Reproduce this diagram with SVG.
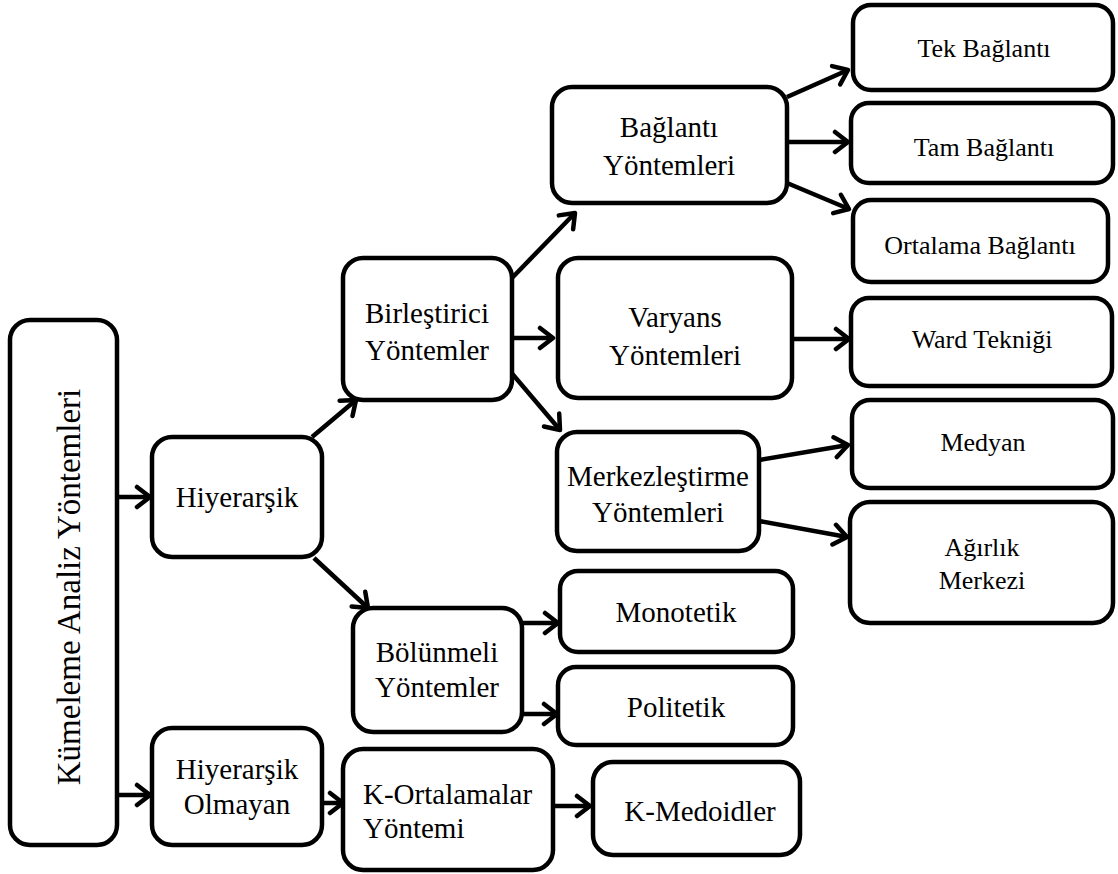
<svg xmlns="http://www.w3.org/2000/svg" width="1118" height="874" viewBox="0 0 1118 874" font-family="Liberation Serif, Times New Roman, serif">
<defs>
<style>
.box{fill:#fff;stroke:#000;stroke-width:4.5}
.t{font-size:29px;fill:#000;text-anchor:middle}
.s{font-size:26px;fill:#000;text-anchor:middle}
.l{font-size:29px;fill:#000;text-anchor:start}
.c{fill:none;stroke:#000;stroke-width:4.5;marker-end:url(#ah)}
</style>
<marker id="ah" viewBox="-3 -13 20 26" refX="13" refY="0" markerWidth="20" markerHeight="26" markerUnits="userSpaceOnUse" orient="auto">
<path d="M0,-10 L13,0 L0,10" fill="none" stroke="#000" stroke-width="4.5" stroke-linecap="round" stroke-linejoin="round"/>
</marker>
</defs>
<rect width="1118" height="874" fill="#fff"/>
<g id="connectors">
<path class="c" d="M117,497 L150,497"/>
<path class="c" d="M117,795 L150,795"/>
<path class="c" d="M312,437 L356,400"/>
<path class="c" d="M314,558 L368,608"/>
<path class="c" d="M510,280 L575,213"/>
<path class="c" d="M512,338 L553,338"/>
<path class="c" d="M509,370 L560,430"/>
<path class="c" d="M787,97 L848,70"/>
<path class="c" d="M787,142 L848,142"/>
<path class="c" d="M787,183 L849,209"/>
<path class="c" d="M792,339 L849,339"/>
<path class="c" d="M759,460 L848,445"/>
<path class="c" d="M759,521 L847,537"/>
<path class="c" d="M522,623 L558,623"/>
<path class="c" d="M522,714 L557,714"/>
<path class="c" d="M322,803 L343,803"/>
<path class="c" d="M549,806 L590,806"/>
</g>
<g id="kumeleme">
<rect class="box" x="10" y="320" width="107" height="525" rx="20"/>
<text font-size="33" text-anchor="middle" transform="translate(80,587) rotate(-90)">Kümeleme Analiz Yöntemleri</text>
</g>
<g id="hiyerarsik">
<rect class="box" x="152" y="437" width="170" height="120" rx="20"/>
<text class="t" x="237" y="507">Hiyerarşik</text>
</g>
<g id="hiyerarsik-olmayan">
<rect class="box" x="152" y="728" width="170" height="117" rx="20"/>
<text class="t" x="237" y="779">Hiyerarşik</text>
<text class="t" x="237" y="814">Olmayan</text>
</g>
<g id="birlestirici">
<rect class="box" x="343" y="258" width="169" height="142" rx="20"/>
<text class="t" x="427" y="323">Birleştirici</text>
<text class="t" x="427" y="360">Yöntemler</text>
</g>
<g id="bolunmeli">
<rect class="box" x="353" y="608" width="169" height="124" rx="20"/>
<text class="t" x="437" y="662">Bölünmeli</text>
<text class="t" x="437" y="697">Yöntemler</text>
</g>
<g id="k-ortalamalar">
<rect class="box" x="343" y="749" width="210" height="121" rx="20"/>
<text class="l" x="363" y="804">K-Ortalamalar</text>
<text class="l" x="363" y="838">Yöntemi</text>
</g>
<g id="k-medoidler">
<rect class="box" x="593" y="762" width="207" height="93" rx="20"/>
<text class="t" x="700" y="821">K-Medoidler</text>
</g>
<g id="baglanti">
<rect class="box" x="552" y="87" width="235" height="116" rx="20"/>
<text class="t" x="669" y="137">Bağlantı</text>
<text class="t" x="669" y="175">Yöntemleri</text>
</g>
<g id="varyans">
<rect class="box" x="558" y="258" width="234" height="140" rx="20"/>
<text class="t" x="675" y="327">Varyans</text>
<text class="t" x="675" y="365">Yöntemleri</text>
</g>
<g id="merkezlestirme">
<rect class="box" x="557" y="432" width="202" height="119" rx="20"/>
<text class="t" x="658" y="486">Merkezleştirme</text>
<text class="t" x="658" y="522">Yöntemleri</text>
</g>
<g id="monotetik">
<rect class="box" x="560" y="571" width="233" height="81" rx="18"/>
<text class="t" x="676" y="622">Monotetik</text>
</g>
<g id="politetik">
<rect class="box" x="558" y="667" width="235" height="78" rx="18"/>
<text class="t" x="676" y="717">Politetik</text>
</g>
<g id="tek">
<rect class="box" x="853" y="5" width="260" height="85" rx="18"/>
<text class="s" x="984" y="57">Tek Bağlantı</text>
</g>
<g id="tam">
<rect class="box" x="851" y="103" width="262" height="80" rx="18"/>
<text class="s" x="984" y="156">Tam Bağlantı</text>
</g>
<g id="ortalama">
<rect class="box" x="853" y="200" width="255" height="82" rx="18"/>
<text class="s" x="980" y="254">Ortalama Bağlantı</text>
</g>
<g id="ward">
<rect class="box" x="851" y="298" width="261" height="88" rx="18"/>
<text class="s" x="982" y="348">Ward Tekniği</text>
</g>
<g id="medyan">
<rect class="box" x="852" y="400" width="261" height="88" rx="18"/>
<text class="s" x="983" y="451">Medyan</text>
</g>
<g id="agirlik">
<rect class="box" x="850" y="502" width="263" height="121" rx="20"/>
<text class="s" x="982" y="556">Ağırlık</text>
<text class="s" x="982" y="589">Merkezi</text>
</g>
</svg>
